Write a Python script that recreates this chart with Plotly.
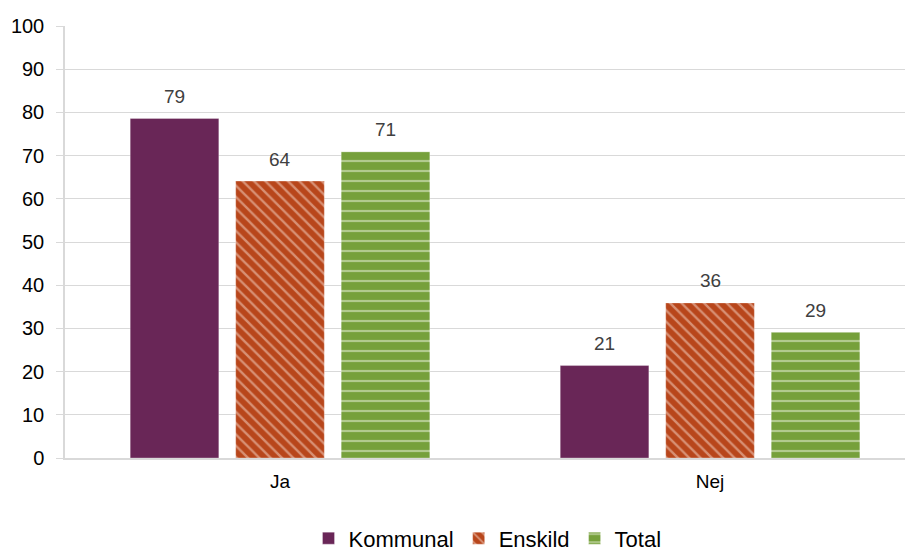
import plotly.graph_objects as go

categories = ["Ja", "Nej"]
series_names = ["Kommunal", "Enskild", "Total"]
kommunal = [78.6, 21.4]
enskild = [64.1, 35.9]
total = [70.9, 29.1]
y_ticks = [0, 10, 20, 30, 40, 50, 60, 70, 80, 90, 100]

styles = {
    "Kommunal": dict(color="#692657", pattern=dict(shape="")),
    "Enskild": dict(color="#b8461b",
                    pattern=dict(shape="\\", fgcolor="#f6d9cc", size=8, solidity=0.3)),
    "Total": dict(color="#76a03b",
                  pattern=dict(shape="-", fgcolor="#eef4e2", size=10, solidity=0.22)),
}

font = "Liberation Sans, Arial, sans-serif"
x = list(range(len(categories)))

fig = go.Figure()
for name, vals in zip(series_names, [kommunal, enskild, total]):
    st = styles[name]
    fig.add_trace(go.Bar(
        name=name, x=x, y=vals,
        marker=dict(color=st["color"], pattern=st["pattern"],
                    line=dict(width=0.6, color="rgba(255,255,255,0.5)")),
    ))

# value labels above the bars (rounded like the original)
slot = 105.5
for i, vals in enumerate([kommunal, enskild, total]):
    for xi, v in zip(x, vals):
        fig.add_annotation(x=xi, y=v, text=str(round(v)), showarrow=False,
                           xshift=(i - 1) * slot, yshift=22,
                           font=dict(size=19, color="#404040", family=font))

# page body has an 8px offset, so margins are shifted to compensate
fig.update_layout(
    width=913, height=552,
    margin=dict(l=57, r=11, t=18, b=102, autoexpand=False),
    plot_bgcolor="white", paper_bgcolor="white",
    barmode="group", bargap=0.264, bargroupgap=0.16,
    font=dict(family=font, size=19, color="#000000"),
    legend=dict(orientation="h", x=0.5, xanchor="center", y=-0.186, yanchor="middle",
                font=dict(size=22, color="#000000"), itemwidth=30,
                traceorder="normal"),
    showlegend=True,
)
fig.update_xaxes(
    range=[-0.5, 1.465], tickvals=x, ticktext=categories, automargin=False,
    showgrid=False, showline=True, linecolor="#d9d9d9", linewidth=1.5,
    ticks="", tickfont=dict(size=19), zeroline=False, ticklabelstandoff=5,
)
fig.update_yaxes(
    range=[0, 100], tickvals=y_ticks, automargin=False,
    showgrid=True, gridcolor="#d9d9d9", gridwidth=1.3,
    showline=True, linecolor="#d9d9d9", linewidth=1.5,
    ticks="outside", ticklen=7, tickcolor="#d9d9d9", tickwidth=1.3,
    tickfont=dict(size=20), zeroline=False, ticklabelstandoff=8,
)

fig.write_html("out.html")
